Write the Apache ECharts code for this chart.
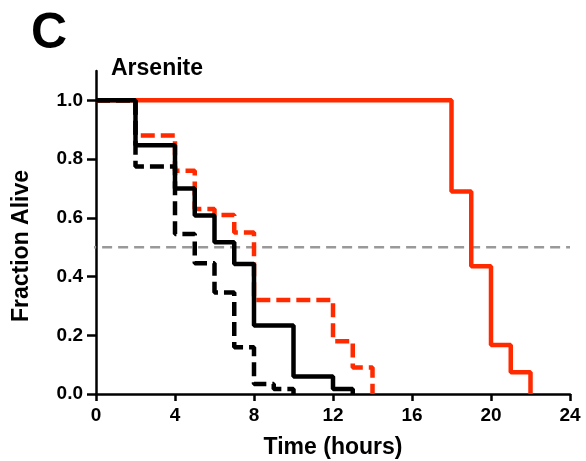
<!DOCTYPE html>
<html>
<head>
<meta charset="utf-8">
<script src="https://cdn.jsdelivr.net/npm/echarts@6/dist/echarts.min.js"></script>
<style>
  html, body { margin: 0; padding: 0; background: #fff; }
  #chart { width: 586px; height: 461px; }
</style>
</head>
<body>
<div id="chart"></div>
<script>
// survival curves, [hour, fraction alive] at each step
var redSolid = [[0, 1.0], [18, 0.69], [19, 0.435], [20, 0.167], [21, 0.074], [22, 0]];
var redDashed = [[0, 1.0], [2, 0.88], [4, 0.76], [5, 0.63], [6, 0.61], [7, 0.55], [8, 0.32], [12, 0.18], [13, 0.09], [14, 0]];
var blackDashed = [[0, 1.0], [2, 0.775], [4, 0.545], [5, 0.445], [6, 0.346], [7, 0.159], [8, 0.034], [9, 0.017], [10, 0]];
var blackSolid = [[0, 1.0], [2, 0.847], [4, 0.70], [5, 0.608], [6, 0.517], [7, 0.443], [8, 0.233], [10, 0.06], [12, 0.017], [13, 0]];
var halfLine = [[-0.5, 0.5], [24, 0.5]];
var yTicks = [0, 0.2, 0.4, 0.6, 0.8, 1.0];

var FONT = 'Liberation Sans, Arial, Helvetica, sans-serif';
var RED = '#ff2a00';

var chart = echarts.init(document.getElementById('chart'));

function curve(data, color, dashed) {
  return {
    type: 'line',
    data: data,
    step: 'end',
    symbol: 'none',
    animation: false,
    lineStyle: { color: color, width: 4.5, type: dashed ? [14, 6] : 'solid' }
  };
}

var option = {
  backgroundColor: '#fff',
  textStyle: { fontFamily: FONT },
  grid: { left: 96, right: 16, top: 71, bottom: 67, outerBoundsMode: 'none', containLabel: false },
  xAxis: {
    type: 'value',
    min: 0,
    max: 24,
    interval: 4,
    splitLine: { show: false },
    axisLine: { lineStyle: { color: '#000', width: 2.5 } },
    axisTick: { length: 7, lineStyle: { color: '#000', width: 2.5 } },
    axisLabel: { color: '#000', fontSize: 19, fontWeight: 'bold', margin: 12, fontFamily: FONT },
    name: 'Time (hours)',
    nameLocation: 'middle',
    nameGap: 42,
    nameTextStyle: { color: '#000', fontSize: 23, fontWeight: 'bold', fontFamily: FONT }
  },
  yAxis: {
    type: 'value',
    min: 0,
    max: 1.1,
    interval: 0.2,
    splitLine: { show: false },
    axisLine: { lineStyle: { color: '#000', width: 2.5 } },
    axisTick: { length: 9, customValues: yTicks, lineStyle: { color: '#000', width: 2.5 } },
    axisLabel: {
      customValues: yTicks,
      color: '#000', fontSize: 19, fontWeight: 'bold', margin: 13, fontFamily: FONT,
      formatter: function (v) { return v.toFixed(1); }
    }
  },
  graphic: [
    { type: 'text', left: 31, top: 9, style: { text: 'C', font: 'bold 50px ' + FONT, fill: '#000' } },
    { type: 'text', left: 111, top: 57, style: { text: 'Arsenite', font: 'bold 23px ' + FONT, fill: '#000' } },
    {
      type: 'text', x: 22, y: 246, rotation: Math.PI / 2,
      style: { text: 'Fraction Alive', font: 'bold 23px ' + FONT, fill: '#000', align: 'center', verticalAlign: 'middle' }
    }
  ],
  series: [
    {
      type: 'line',
      data: halfLine,
      symbol: 'none',
      clip: false,
      animation: false,
      lineStyle: { color: '#999', width: 2.5, type: [10, 6] }
    },
    curve(redSolid, RED, false),
    curve(redDashed, RED, true),
    curve(blackDashed, '#000', true),
    curve(blackSolid, '#000', false)
  ]
};

chart.setOption(option);
</script>
</body>
</html>
